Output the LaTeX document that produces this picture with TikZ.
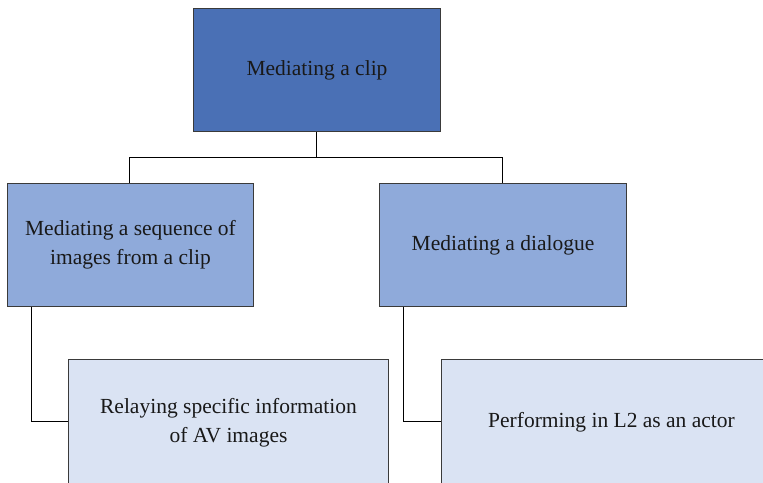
\documentclass[tikz,border=0pt]{standalone}
\usepackage{fontspec}
\setmainfont{Liberation Serif}
\definecolor{topc}{HTML}{4A70B5}
\definecolor{midc}{HTML}{8FAADA}
\definecolor{lowc}{HTML}{DAE3F3}
\definecolor{edge}{HTML}{3A3A3A}
\begin{document}
\begin{tikzpicture}[x=1pt,y=-1pt,
  boxstyle/.style={draw=edge,line width=1pt,anchor=north west,inner sep=0pt,align=center,font=\fontsize{21.5}{29}\selectfont,text=black!90},
  link/.style={draw=black,line width=1pt}]
\useasboundingbox (0,0) rectangle (763,482);
\clip (0,0) rectangle (763,482);
\node[boxstyle,fill=topc,minimum width=247pt,minimum height=123pt] (top) at (193,8) {Mediating a clip};
\node[boxstyle,fill=midc,minimum width=246pt,minimum height=123pt] (ml) at (7,183) {Mediating a sequence of\\images from a clip};
\node[boxstyle,fill=midc,minimum width=247pt,minimum height=123pt] (mr) at (379,183) {Mediating a dialogue};
\node[boxstyle,fill=lowc,minimum width=320pt,minimum height=126pt] (bl) at (68,359) {Relaying specific information\\of AV images};
\node[boxstyle,fill=lowc,minimum width=340pt,minimum height=126pt] (br) at (441,359) {Performing in L2 as an actor};
\coordinate (hub) at (316,157);
\draw[link] (hub |- top.south) -- (hub);
\draw[link] (hub) -| (ml.north -| 129,0);
\draw[link] (hub) -| (mr.north -| 502,0);
\draw[link] (ml.south -| 31,0) |- (bl.west |- 0,421);
\draw[link] (mr.south -| 403,0) |- (br.west |- 0,421);
\end{tikzpicture}
\end{document}
